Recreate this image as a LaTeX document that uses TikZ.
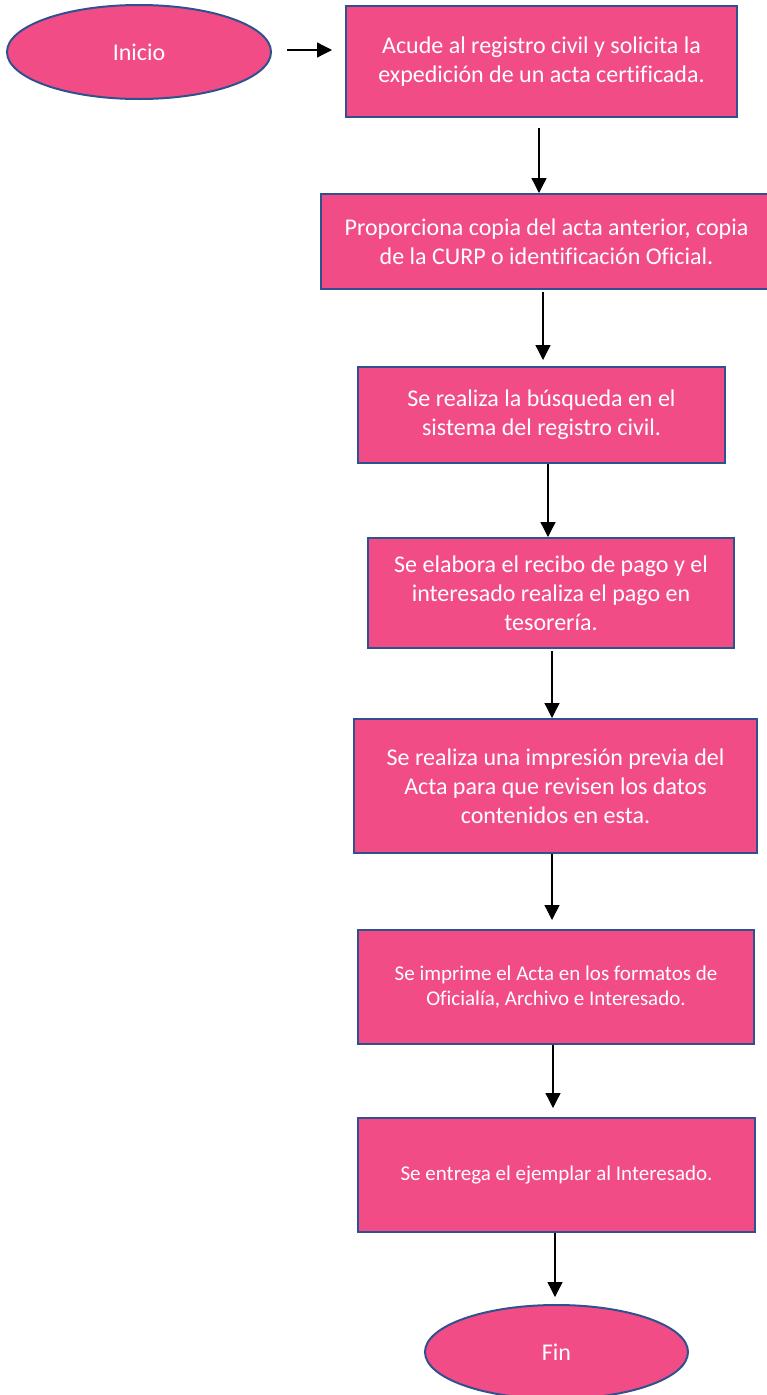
\documentclass[tikz,border=0pt]{standalone}
\usepackage{fontspec}
\setmainfont{Carlito}[Ligatures=NoCommon]
\usetikzlibrary{arrows.meta,shapes.geometric}
\definecolor{boxpink}{RGB}{242,76,135}
\definecolor{boxedge}{RGB}{47,82,143}

\begin{document}
\begin{tikzpicture}[x=1pt,y=-1pt,
  stepbox/.style={rectangle, draw=boxedge, line width=2pt, fill=boxpink,
    text=white, align=center, inner sep=0pt,
    font=\fontsize{24}{29}\selectfont},
  smallbox/.style={stepbox, font=\fontsize{21}{25.5}\selectfont},
  terminal/.style={ellipse, draw=boxedge, line width=2pt, fill=boxpink,
    text=white, inner sep=0pt, font=\fontsize{24}{29}\selectfont},
  flow/.style={line width=1.3pt, -{Triangle[width=15pt,length=15pt]}}]
\useasboundingbox (0,0) rectangle (767,1395);
\clip (0,0) rectangle (767,1395);

% start and end terminals
\node[terminal, minimum width=264, minimum height=94] (inicio) at (139,52) {Inicio};
\node[terminal, minimum width=263, minimum height=94] (fin) at (556.5,1352) {Fin};

% process steps
\node[stepbox, minimum width=391, minimum height=111] (b1) at (541.5,61.5)
  {Acude al registro civil y solicita la\\expedición de un acta certificada.};
\node[stepbox, minimum width=451, minimum height=95] (b2) at (546.5,241.5)
  {Proporciona copia del acta anterior, copia\\de la CURP o identificación Oficial.};
\node[stepbox, minimum width=367, minimum height=96] (b3) at (541.5,415)
  {Se realiza la búsqueda en el\\sistema del registro civil.};
\node[stepbox, minimum width=366, minimum height=110] (b4) at (551,593)
  {Se elabora el recibo de pago y el\\interesado realiza el pago en\\tesorería.};
\node[stepbox, minimum width=403, minimum height=134] (b5) at (555.5,786)
  {Se realiza una impresión previa del\\Acta para que revisen los datos\\contenidos en esta.};
\node[smallbox, minimum width=396, minimum height=114] (b6) at (556,987)
  {Se imprime el Acta en los formatos de\\Oficialía, Archivo e Interesado.};
\node[smallbox, minimum width=397, minimum height=114] (b7) at (556.5,1175)
  {Se entrega el ejemplar al Interesado.};

% connectors
\draw[flow] ([xshift=15pt,yshift=2pt]inicio.east) -- ([xshift=-13pt,yshift=11.5pt]b1.west);
\draw[flow] ([xshift=-2.5pt,yshift=-10pt]b1.south) -- ([xshift=-7.5pt]b2.north);
\draw[flow] ([xshift=-3.5pt,yshift=-2pt]b2.south) -- ([xshift=1.5pt,yshift=6pt]b3.north);
\draw[flow] ([xshift=6.5pt]b3.south) -- ([xshift=-3pt]b4.north);
\draw[flow] ([xshift=1pt,yshift=-2pt]b4.south) -- ([xshift=-3.5pt]b5.north);
\draw[flow] ([xshift=-3.5pt]b5.south) -- ([xshift=-4pt,yshift=9pt]b6.north);
\draw[flow] ([xshift=-3pt]b6.south) -- ([xshift=-3.5pt,yshift=9pt]b7.north);
\draw[flow] ([xshift=-1.5pt]b7.south) -- ([xshift=-1.5pt,yshift=7pt]fin.north);
\end{tikzpicture}
\end{document}
